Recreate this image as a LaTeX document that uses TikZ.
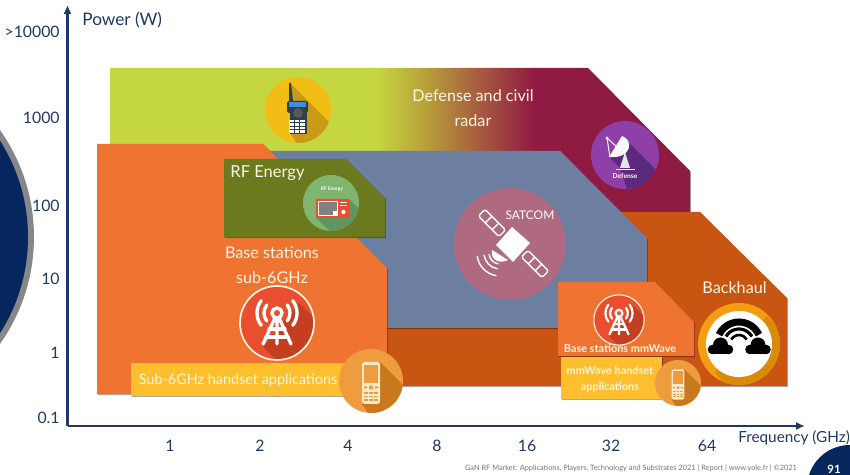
\documentclass[tikz,border=0pt]{standalone}
\usepackage{fontspec}
\setmainfont{Lato}
\usetikzlibrary{arrows.meta,shadows}

\definecolor{navyaxis}{HTML}{1F3864}
\definecolor{navydisc}{HTML}{06265E}
\definecolor{greyring}{HTML}{85878A}
\definecolor{limearea}{HTML}{C4D640}
\definecolor{radarmidone}{HTML}{B7A03A}
\definecolor{radarmidtwo}{HTML}{A8603F}
\definecolor{wine}{HTML}{8F1A42}
\definecolor{slatearea}{HTML}{6C7FA0}
\definecolor{rustarea}{HTML}{C85612}
\definecolor{orangearea}{HTML}{EF7432}
\definecolor{olivearea}{HTML}{6B7A1E}
\definecolor{yellowarea}{HTML}{FDBF2D}
\definecolor{creamtext}{HTML}{FFF6E5}
\definecolor{towerred}{HTML}{E94F2E}
\definecolor{towershade}{HTML}{C43F22}
\definecolor{phonedisc}{HTML}{EF9C3F}
\definecolor{phoneshade}{HTML}{C9781E}
\definecolor{phonecream}{HTML}{FBE9CC}
\definecolor{walkiedisc}{HTML}{F2BE16}
\definecolor{walkieshade}{HTML}{C89A16}
\definecolor{walkiebody}{HTML}{2C3E50}
\definecolor{walkiescreen}{HTML}{3F8FE0}
\definecolor{ovendisc}{HTML}{7FB56F}
\definecolor{ovenshade}{HTML}{5F9660}
\definecolor{dishdisc}{HTML}{8E3FA8}
\definecolor{dishshade}{HTML}{5B2A7E}
\definecolor{satdisc}{HTML}{AF6A82}
\definecolor{backdisc}{HTML}{F49C12}
\definecolor{backshade}{HTML}{D98A0A}

% Degradado de la zona de radar
\pgfdeclarehorizontalshading{radarshade}{100bp}{
  color(0bp)=(limearea); color(48bp)=(limearea);
  color(52.2bp)=(radarmidone);
  color(56.5bp)=(radarmidtwo);
  color(61.6bp)=(wine); color(100bp)=(wine)}

\tikzset{
  areashadow/.style={drop shadow={shadow xshift=.5pt,shadow yshift=-.6pt,opacity=.35,fill=black}},
  axisline/.style={navyaxis,line width=1.3pt,-{Latex[length=5pt,width=4.5pt]}},
  ticklabel/.style={text=navyaxis,font=\fontsize{9}{11}\selectfont,inner sep=0pt},
  arealabel/.style={text=creamtext,font=\fontsize{9.2}{12}\selectfont,inner sep=0pt,align=center},
  smalllabel/.style={text=creamtext,font=\fontsize{6.2}{8}\selectfont\bfseries,inner sep=0pt,align=center},
  % Torre de telefonia, radio 37
  pics/towericon/.style={code={
    \fill[towerred] (0,0) circle[radius=37];
    \begin{scope}
      \clip (0,0) circle[radius=37];
      \fill[towershade] (22,-20) -- (75,33) -- (35,73) -- (-14,24) -- cycle;
    \end{scope}
    \draw[creamtext,line width=#1*.5] (0,0) circle[radius=37];
    \begin{scope}[white,line width=#1,line cap=round]
      \draw (0,-10) circle[radius=5];
      \foreach \wave in {13,20} {
        \draw ([shift={(0,-10)}]-38:\wave) arc[start angle=-38,end angle=38,radius=\wave];
        \draw ([shift={(0,-10)}]142:\wave) arc[start angle=142,end angle=218,radius=\wave];
      }
      \draw (-14,21) -- (-2.5,-4) (14,21) -- (2.5,-4) (0,-4) -- (0,21);
      \draw (-8,6) -- (8,6) (-11,14) -- (11,14);
    \end{scope}}},
  % Movil, radio 32
  pics/phoneicon/.style={code={
    \fill[phonedisc] (0,0) circle[radius=32];
    \begin{scope}
      \clip (0,0) circle[radius=32];
      \fill[phoneshade] (9,-19) -- (50,22) -- (15,58) -- (-9,23) -- cycle;
    \end{scope}
    \fill[phonecream,rounded corners=#1] (-9,-19) rectangle (9,23);
    \fill[phonedisc] (-7,-16) rectangle (7,2);
    \fill[phonedisc] (0,6.5) circle[radius=2.2];
    \foreach \px in {-5,0,5} {\foreach \py in {12,15.5,19} {
      \fill[phonedisc] (\px-1.6,\py-.7) rectangle (\px+1.6,\py+.7);
    }}
    \fill[phonedisc] (-7,5.5) rectangle (-4,7.5) (4,5.5) rectangle (7,7.5);}}
}

\begin{document}
\begin{tikzpicture}[x=0.02cm,y=-0.02cm]

  % Marco de la imagen
  \clip (0,0) rectangle (850,475);

  % Disco azul a la izquierda
  \fill[greyring] (-151,237) circle[radius=185];
  \fill[navydisc] (-151,237) circle[radius=179];

  % Disco del numero de pagina
  \fill[navydisc] (850,488) circle[radius=43];
  \node[text=white,font=\fontsize{6.5}{8}\selectfont\bfseries,inner sep=0pt] (pagenum) at (834,469) {91};

  % Ejes
  \coordinate (origin) at (67.5,426);
  \coordinate (powertip) at (67.5,5);
  \coordinate (freqtip) at (805,426);
  \draw[axisline] (origin) -- (powertip);
  \draw[axisline] (origin) -- (freqtip);
  \node[ticklabel,anchor=west,font=\fontsize{9.8}{12}\selectfont] (powerlabel) at (82,20) {Power (W)};
  \node[ticklabel,anchor=west,font=\fontsize{8.7}{11}\selectfont] (freqlabel) at (738,438) {Frequency (GHz)};

  % Etiquetas de potencia
  \foreach \ylabel/\ypos/\yname in {>10000/32/a,1000/118/b,100/206/c,10/279/d,1/353/e,0.1/418/f}
    \node[ticklabel,anchor=east] (power\yname) at (60,\ypos) {\ylabel};

  % Etiquetas de frecuencia
  \foreach \xlabel/\xpos in {1/170,2/260,4/348,8/437,16/527,32/611,64/707}
    \node[ticklabel] (freq\xlabel) at (\xpos,446) {\xlabel};

  % Zonas de color, de atras hacia delante
  \path[shading=radarshade,areashadow] (110,68) -- (588,68) -- (690,171) -- (690,212) -- (620,212) -- (560,151) -- (110,151) -- cycle;
  \fill[rustarea,areashadow] (622,212) -- (700,212) -- (787,298) -- (787,386) -- (380,386) -- (380,320) -- (622,320) -- cycle;
  \fill[slatearea,areashadow] (255,151) -- (560,151) -- (647,238) -- (647,328) -- (380,328) -- (255,328) -- cycle;
  \fill[orangearea,areashadow] (97,144) -- (263,144) -- (387,268) -- (387,394) -- (97,394) -- cycle;
  \fill[olivearea,areashadow] (224,159) -- (346,159) -- (385,198) -- (385,237) -- (224,237) -- cycle;
  \fill[yellowarea,areashadow] (131,363) rectangle (350,396);
  \fill[orangearea,areashadow] (558,282) -- (655,282) -- (694,322) -- (694,356) -- (558,356) -- cycle;
  \fill[yellowarea,areashadow] (561,357) rectangle (662,399);

  % Icono de radio portatil
  \begin{scope}[shift={(298,110)}]
    \fill[walkiedisc] (0,0) circle[radius=33];
    \clip (0,0) circle[radius=33];
    \fill[walkieshade] (-8,-27) -- (40,21) -- (10,51) -- (-8,23) -- cycle;
    \fill[walkiebody] (-9,-9) -- (-9,-27) -- (-7,-27) -- (-5,-9) -- cycle;
    \fill[walkiebody,rounded corners=1pt] (-11,-9) rectangle (10,3);
    \fill[walkiebody] (-8,2) rectangle (9,24);
    \fill[walkiescreen] (-9,-7.5) rectangle (8,-2.5);
    \fill[gray!70!black] (0,3) circle[radius=5];
    \foreach \kx in {-6.5,-1,4.5} {\foreach \ky in {11,14.5,18,21.5} {
      \fill[white] (\kx-2.2,\ky-1.3) rectangle (\kx+2.2,\ky+1.3);
    }}
  \end{scope}

  % Icono de microondas
  \begin{scope}[shift={(331,203)}]
    \fill[ovendisc] (0,0) circle[radius=28];
    \clip (0,0) circle[radius=28];
    \fill[ovenshade] (18,-4) -- (45,23) -- (20,48) -- (-15,15) -- cycle;
    \node[text=white,font=\fontsize{2.8}{3}\selectfont\bfseries,inner sep=0pt] (rfsmall) at (1,-14) {RF Energy};
    \fill[towerred,rounded corners=.5pt] (-15,-4) rectangle (18,15);
    \fill[white] (-13,-2) rectangle (7,13);
    \fill[gray] (-12,-1) rectangle (6,12);
    \fill[white] (2,8) rectangle (6,12);
    \draw[white,line width=.5pt] (9,-1) -- (16,-1) (9,2) -- (16,2);
    \fill[white] (12.5,9) circle[radius=2.2];
  \end{scope}

  % Icono de antena parabolica
  \begin{scope}[shift={(625,155)}]
    \fill[dishdisc] (0,0) circle[radius=34];
    \clip (0,0) circle[radius=34];
    \fill[dishshade] (-3,-19) -- (40,24) -- (8,52) -- (-5,13) -- (-16,2) -- cycle;
    \draw[white!90!gray,line width=.6pt] (-18,-17) -- (-8,-8) (-18,-17) -- (-15,2);
    \fill[white!90!gray] (-18,-17) circle[radius=1.6];
    \fill[white!80!gray] (0,-3) -- (-5,13) -- (5,13) -- cycle;
    \fill[white!95!gray] (-3,-19) .. controls (9,-15) and (7,4) .. (-16,2) -- cycle;
    \draw[white,line width=.7pt] (-9,14.5) -- (10,14.5);
    \node[text=white,font=\fontsize{3.8}{4}\selectfont\bfseries,inner sep=0pt] (defsmall) at (0,21) {Defense};
  \end{scope}

  % Icono de satelite
  \begin{scope}[shift={(510,244)}]
    \fill[satdisc] (0,0) circle[radius=56];
    \fill[white] (2,-17) -- (20,-1) -- (3,18) -- (-14,1) -- cycle;
    \foreach \sx/\sy in {-18/-21,25/20} {
      \begin{scope}[shift={(\sx,\sy)},rotate=-45]
        \draw[white,line width=.8pt,rounded corners=1pt] (-14.5,-4.7) rectangle (14.5,4.7);
        \draw[white,line width=.8pt] (-4.8,-4.7) -- (-4.8,4.7) (4.8,-4.7) -- (4.8,4.7);
      \end{scope}
    }
    \fill[white] (-18,6) .. controls (-20,17) and (-9,20) .. (-2,16) -- cycle;
    \foreach \wave in {11,16,23}
      \draw[white,line width=.8pt,line cap=round] ([shift={(-10,9)}]100:\wave) arc[start angle=100,end angle=172,radius=\wave];
    \node[text=white,font=\fontsize{6.8}{8}\selectfont,inner sep=0pt] (satlabel) at (20,-29) {SATCOM};
  \end{scope}

  % Iconos de estaciones base y moviles
  \pic at (277,323) {towericon=1.9pt};
  \pic[scale=.68] at (619,320) {towericon=1.25pt};
  \pic at (371,381) {phoneicon=1.5pt};
  \pic[scale=.72] at (678,383) {phoneicon=1pt};

  % Icono de backhaul
  \begin{scope}[shift={(739,344)}]
    \fill[backdisc] (0,0) circle[radius=41];
    \begin{scope}
      \clip (0,0) circle[radius=41];
      \fill[backshade] (28,-28) -- (60,4) -- (0,60) -- (-24,28) -- cycle;
    \end{scope}
    \fill[white] (0,0) circle[radius=33];
    \draw[black,line width=4pt] (-155:22) arc[start angle=-155,end angle=-25,radius=22];
    \draw[black,line width=1.8pt] (-150:15) arc[start angle=-150,end angle=-30,radius=15];
    \draw[black,line width=1.5pt] (-150:9) arc[start angle=-150,end angle=-30,radius=9];
    \foreach \cloudx in {-18.5,19} {
      \fill[black] (\cloudx,1) circle[radius=7.5];
      \fill[black] (\cloudx-8,5.5) circle[radius=4.8];
      \fill[black] (\cloudx+8,5.5) circle[radius=4.8];
      \fill[black] (\cloudx-8,5.5) rectangle (\cloudx+8,10.3);
    }
  \end{scope}

  % Textos de las zonas
  \node[arealabel] (radarlabel) at (473,108) {Defense and civil\\[2pt]radar};
  \node[arealabel,font=\fontsize{9.4}{12}\selectfont] (rflabel) at (267.5,173) {RF Energy};
  \node[arealabel] (sublabel) at (272,265) {Base stations\\[2pt]sub-6GHz};
  \node[arealabel,font=\fontsize{8.2}{10}\selectfont] (handlabel) at (238,380) {Sub-6GHz handset applications};
  \node[smalllabel] (mmlabel) at (620,349) {Base stations mmWave};
  \node[smalllabel] (mmhand) at (610,379) {mmWave handset\\[1pt]applications};
  \node[arealabel] (backlabel) at (734.5,288) {Backhaul};

  % Pie de pagina
  \node[text=gray!90!black,font=\fontsize{4.2}{6}\selectfont,inner sep=0pt] (footer) at (631,468) {GaN RF Market: Applications, Players, Technology and Substrates 2021 | Report | www.yole.fr | ©2021};

\end{tikzpicture}
\end{document}
